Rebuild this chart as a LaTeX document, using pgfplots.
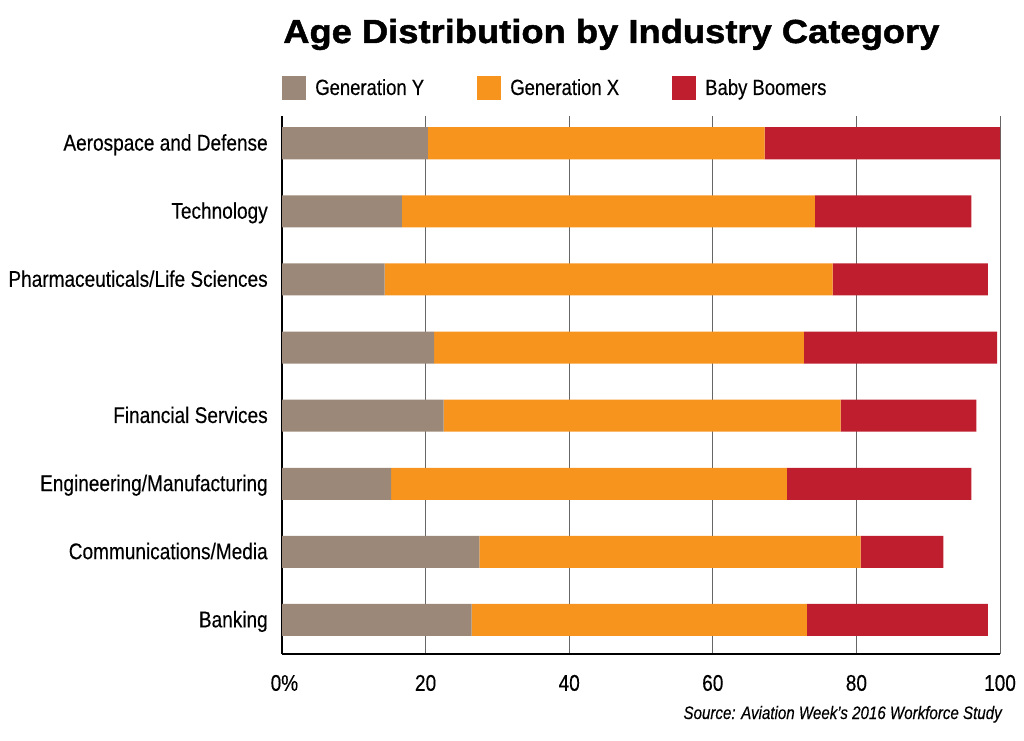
\documentclass[border=0pt]{standalone}
\usepackage{fontspec}
\setmainfont{Liberation Sans}[FakeStretch=0.84, FakeBold=0.3]
\newfontfamily\titlefont{Liberation Sans Bold}[FakeStretch=1.09, FakeBold=1.4]
\usepackage{pgfplots}
\usepackage{pgfplotstable}
\pgfplotsset{compat=1.18}
\definecolor{genY}{HTML}{9C8878}
\definecolor{genX}{HTML}{F7941D}
\definecolor{boom}{HTML}{BE1E2D}
\pgfplotstableread{
idx Y X B
0 20.3 46.9 32.8
1 16.7 57.5 21.8
2 14.3 62.4 21.6
3 21.2 51.5 26.9
4 22.5 55.3 18.9
5 15.2 55.1 25.7
6 27.5 53.1 11.5
7 26.4 46.7 25.2
}\datatable
\pgfplotsset{mylegend/.style={legend image code/.code={\fill[##1,draw=none] (0pt,-9pt) rectangle (18pt,9pt);}}}
\begin{document}
\begin{tikzpicture}
\useasboundingbox (0,0) rectangle (768pt,555pt);
\node[anchor=base west, font=\titlefont\fontsize{25pt}{30pt}\selectfont, inner sep=0pt] at (212.25pt,522.75pt) {Age Distribution by Industry Category};
\begin{axis}[
  at={(211.5pt,64.5pt)}, anchor=south west,
  scale only axis, width=538.5pt, height=403.5pt,
  xbar stacked, bar width=0.47,
  y dir=reverse,
  xmin=0, xmax=100, ymin=-0.4, ymax=7.5,
  axis x line*=bottom, axis y line*=left,
  axis line style={black, line width=1pt},
  xtick={0,20,40,60,80,100},
  xticklabels={\makebox[0pt][l]{\hspace{-0.5em}0\%},20,40,60,80,100},
  ytick={0,1,2,3,4,5,6,7},
  yticklabels={Aerospace and Defense, Technology, Pharmaceuticals/Life Sciences, {}, Financial Services, Engineering/Manufacturing, Communications/Media, Banking},
  xtick style={draw=none}, ytick style={draw=none},
  xmajorgrids, grid style={black!60, line width=0.75pt},
  tick label style={font=\fontsize{17pt}{20pt}\selectfont},
  /pgf/number format/assume math mode=true,
  xticklabel style={anchor=north, inner sep=0pt, yshift=-15.5pt},
  yticklabel style={anchor=base east, inner sep=0pt, xshift=-10.5pt, yshift=-5.5pt},
  legend columns=3,
  legend style={at={(0,1)}, anchor=west, yshift=21pt, draw=none, fill=none, inner sep=0pt,
    nodes={inner sep=0pt}, font=\fontsize{16.5pt}{19pt}\selectfont,
    /tikz/every odd column/.append style={column sep=6.75pt}},
]
\addplot[fill=genY, draw=none, mylegend] table[x=Y, y=idx] {\datatable};
\addplot[fill=genX, draw=none, mylegend] table[x=X, y=idx] {\datatable};
\addplot[fill=boom, draw=none, mylegend] table[x=B, y=idx] {\datatable};
\legend{\makebox[121.5pt][l]{Generation Y}, \makebox[121.5pt][l]{Generation X}, Baby Boomers}
\end{axis}
\node[anchor=base east, font=\itshape\fontsize{13.5pt}{16pt}\selectfont, inner sep=0pt] at (751.5pt,15.75pt) {Source: Aviation Week’s 2016 Workforce Study};
\end{tikzpicture}
\end{document}
